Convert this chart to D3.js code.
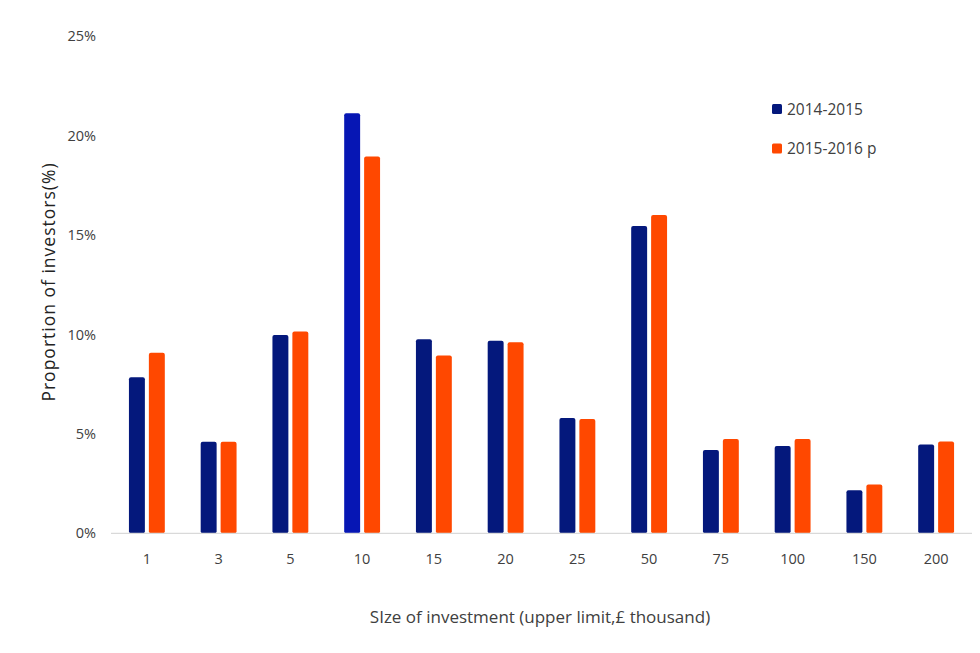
<!DOCTYPE html>
<html>
<head>
<meta charset="utf-8">
<script src="https://cdn.jsdelivr.net/npm/d3@7/dist/d3.min.js"></script>
<style>
  html, body { margin: 0; padding: 0; background: #fff; }
  svg { display: block; }
</style>
</head>
<body>
<svg id="chart" width="980" height="653"></svg>
<script>
const categories = ["1", "3", "5", "10", "15", "20", "25", "50", "75", "100", "150", "200"];
const seriesNames = ["2014-2015", "2015-2016 p"];
const values2014 = [7.85, 4.6, 9.97, 21.13, 9.76, 9.69, 5.8, 15.46, 4.19, 4.39, 2.16, 4.47];
const values2015 = [9.08, 4.6, 10.15, 18.95, 8.94, 9.61, 5.75, 16.01, 4.74, 4.74, 2.46, 4.62];
const yTicks = [0, 5, 10, 15, 20, 25];
const colors = ["#04187c", "#ff4800"];
const highlightColor = "#0616b4";

(function () {
const svg = d3.select("#chart");
const plotLeft = 111, plotRight = 972, plotTop = 36.3, plotBottom = 533.3;

const y = d3.scaleLinear().domain([0, 25]).range([plotBottom, plotTop]);
const x0 = d3.scaleBand().domain(categories).range([plotLeft, plotRight]).paddingInner(0.5).paddingOuter(0.25);
const x1 = d3.scaleBand().domain(seriesNames).range([0, x0.bandwidth()]).paddingInner(0.2);

const rows = categories.map((c, i) => ({ cat: c, vals: [values2014[i], values2015[i]] }));

// bars
const g = svg.append("g");
rows.forEach(r => {
  r.vals.forEach((v, si) => {
    g.append("rect")
      .attr("x", x0(r.cat) + x1(seriesNames[si]))
      .attr("y", y(v))
      .attr("width", x1.bandwidth())
      .attr("height", y(0) - y(v))
      .attr("rx", 2).attr("ry", 2)
      .attr("fill", (si === 0 && r.cat === "10") ? highlightColor : colors[si]);
  });
});

// x axis line
svg.append("line")
  .attr("x1", plotLeft).attr("x2", plotRight)
  .attr("y1", plotBottom).attr("y2", plotBottom)
  .attr("stroke", "#d9d9d9").attr("stroke-width", 1.2);

// x axis labels
const xAxis = d3.axisBottom(x0).tickSize(0).tickPadding(20);
const xg = svg.append("g").attr("transform", `translate(0,${plotBottom})`).call(xAxis);
xg.select(".domain").remove();
xg.selectAll("text")
  .attr("font-family", "'Open Sans', sans-serif")
  .attr("font-size", 14.5).attr("fill", "#404040");

// y axis labels
const yAxis = d3.axisLeft(y).tickValues(yTicks).tickSize(0).tickPadding(0).tickFormat(d => d + "%");
const yg = svg.append("g").attr("transform", `translate(96,0)`).call(yAxis);
yg.select(".domain").remove();
yg.selectAll("text")
  .attr("font-family", "'Open Sans', sans-serif")
  .attr("font-size", 14.5).attr("fill", "#404040");

// y title
svg.append("text")
  .attr("transform", "translate(55,282) rotate(-90)")
  .attr("text-anchor", "middle")
  .attr("font-family", "'Open Sans', sans-serif")
  .attr("font-size", 17.5).attr("fill", "#222")
  .attr("letter-spacing", 1)
  .text("Proportion of investors(%)");

// x title
svg.append("text")
  .attr("x", 540).attr("y", 623)
  .attr("text-anchor", "middle")
  .attr("font-family", "'Open Sans', sans-serif")
  .attr("font-size", 17).attr("fill", "#404040")
  .text("SIze of investment (upper limit,£ thousand)");

// legend
const legendY = [109, 148.5];
seriesNames.forEach((s, i) => {
  svg.append("rect")
    .attr("x", 772).attr("y", legendY[i] - 5)
    .attr("width", 10).attr("height", 10).attr("rx", 1.5)
    .attr("fill", colors[i]);
  svg.append("text")
    .attr("x", 787).attr("y", legendY[i] + 0.5)
    .attr("dy", "0.35em")
    .attr("font-family", "'Open Sans', sans-serif")
    .attr("font-size", 15.5).attr("fill", "#404040")
    .text(s);
});
})();
</script>
</body>
</html>
